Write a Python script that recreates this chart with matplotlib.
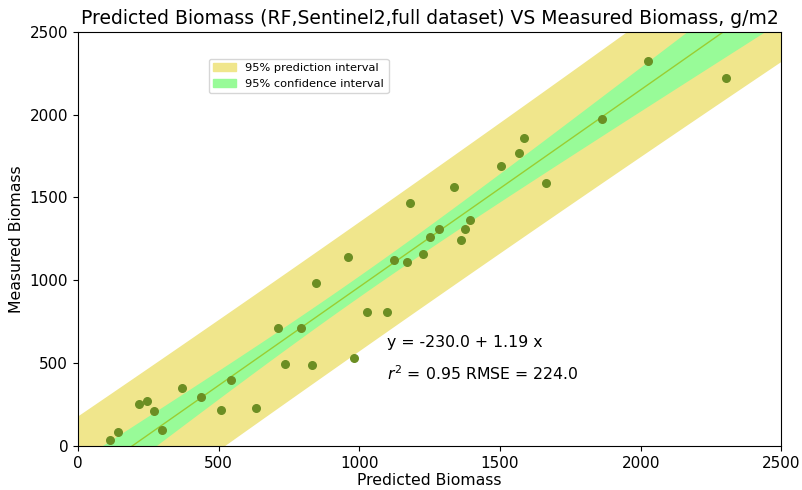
import matplotlib.pyplot as plt
import numpy as np
import matplotlib.patches as mpatches

# predicted (x) vs measured (y) biomass, g/m2
predicted = [115, 141, 216, 247, 271, 300, 371, 437, 509, 543, 632, 712, 736, 793,
             831, 848, 959, 980, 1029, 1098, 1124, 1170, 1182, 1227, 1253, 1285,
             1338, 1362, 1377, 1392, 1505, 1569, 1584, 1664, 1863, 2025, 2302]
measured = [36, 86, 252, 270, 211, 99, 348, 296, 217, 399, 228, 713, 495, 714,
            489, 982, 1143, 529, 811, 807, 1123, 1109, 1469, 1157, 1264, 1310,
            1562, 1244, 1312, 1363, 1689, 1771, 1858, 1590, 1973, 2321, 2224]

# fit as reported on the chart
intercept = -230.0
slope = 1.19
r2 = 0.95
rmse = 224.0

x = np.array(predicted, dtype=float)
y = np.array(measured, dtype=float)
n = len(x)

resid = y - (intercept + slope * x)
s = np.sqrt(np.sum(resid ** 2) / (n - 2))
t = 2.15
xbar = x.mean()
sxx = np.sum((x - xbar) ** 2)

xg = np.linspace(0, 2500, 200)
yg = intercept + slope * xg
ci = t * s * np.sqrt(1 / n + (xg - xbar) ** 2 / sxx)
pi = t * s * np.sqrt(1 + 1 / n + (xg - xbar) ** 2 / sxx)

fig = plt.figure(figsize=(8.03, 4.9), dpi=100)
ax = fig.add_axes([0.097, 0.09, 0.876, 0.845])

ax.fill_between(xg, yg - pi, yg + pi, color='#F0E68C', lw=0)
ax.fill_between(xg, yg - ci, yg + ci, color='#98FB98', lw=0)
ax.plot(xg, yg, color='#9ACD32', lw=1)
ax.scatter(x, y, color='#6B8E23', s=30, zorder=3)

ax.set_xlim(0, 2500)
ax.set_ylim(0, 2500)
ax.set_title('Predicted Biomass (RF,Sentinel2,full dataset) VS Measured Biomass, g/m2',
             fontsize=13.5)
ax.set_xlabel('Predicted Biomass', fontsize=11.3, labelpad=2)
ax.set_ylabel('Measured Biomass', fontsize=11.3)
ax.tick_params(labelsize=11)

ax.text(1100, 600, 'y = %.1f + %.2f x' % (intercept, slope), fontsize=11.3)
ax.text(1100, 400, '$r^2$ = %.2f RMSE = %.1f' % (r2, rmse), fontsize=11.3)

h1 = mpatches.Patch(color='#F0E68C', label='95% prediction interval')
h2 = mpatches.Patch(color='#98FB98', label='95% confidence interval')
fig.legend(handles=[h1, h2], loc='upper left', bbox_to_anchor=(0.253, 0.892),
           fontsize=8.2)

fig.savefig('out.png', dpi=100)
